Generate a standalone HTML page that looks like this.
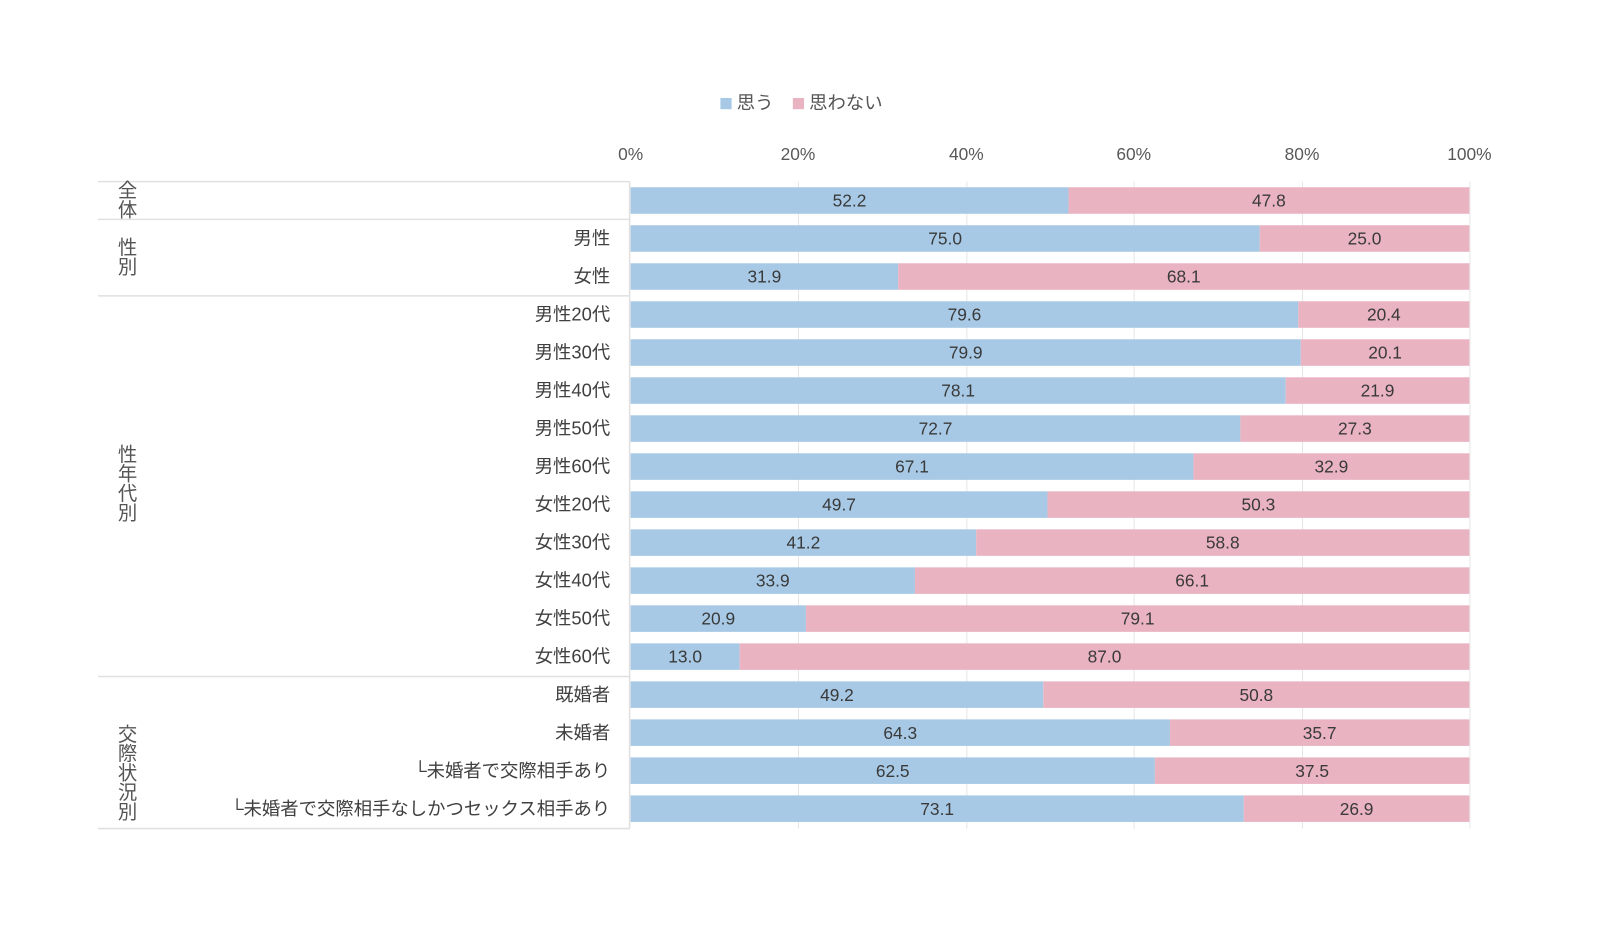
<!DOCTYPE html>
<html><head><meta charset="utf-8"><style>
html,body{margin:0;padding:0;background:#fff;}
svg{display:block;font-family:"Liberation Sans","Noto Sans CJK JP",sans-serif;}
</style></head><body>
<svg width="1600" height="938" viewBox="0 0 1600 938" xmlns="http://www.w3.org/2000/svg">
<rect width="1600" height="938" fill="#fff"/>
<g transform="scale(1.0204)">
<rect x="706" y="96" width="11" height="11" fill="#a7c9e5"/>
<text x="722" y="107" font-size="18" fill="#555">思う</text>
<rect x="777" y="96" width="11" height="11" fill="#e9b3c2"/>
<text x="793" y="107" font-size="18" fill="#555">思わない</text>
<g font-size="17" fill="#595959" text-anchor="middle">
<text x="618" y="157">0%</text><text x="782" y="157">20%</text><text x="947" y="157">40%</text>
<text x="1111" y="157">60%</text><text x="1276" y="157">80%</text><text x="1440" y="157">100%</text>
</g>
<g stroke="#e6e6e6" stroke-width="1">
<line x1="782.5" y1="178" x2="782.5" y2="812"/><line x1="947.5" y1="178" x2="947.5" y2="812"/>
<line x1="1111.5" y1="178" x2="1111.5" y2="812"/><line x1="1276.5" y1="178" x2="1276.5" y2="812"/>
<line x1="1440.5" y1="178" x2="1440.5" y2="812"/>
</g>
<g stroke="#e0e0e0" stroke-width="1.5">
<line x1="96" y1="178" x2="617" y2="178"/><line x1="96" y1="215" x2="617" y2="215"/>
<line x1="96" y1="290" x2="617" y2="290"/><line x1="96" y1="663" x2="617" y2="663"/>
<line x1="96" y1="812" x2="617" y2="812"/><line x1="617" y1="178" x2="617" y2="812"/>
</g>
<g font-size="19" fill="#555" text-anchor="middle">
<text x="125" y="193">全</text><text x="125" y="212">体</text>
<text x="125" y="249">性</text><text x="125" y="268">別</text>
<text x="125" y="452">性</text><text x="125" y="471">年</text><text x="125" y="490">代</text><text x="125" y="509">別</text>
<text x="125" y="726">交</text><text x="125" y="745">際</text><text x="125" y="764">状</text><text x="125" y="783">況</text><text x="125" y="802">別</text>
</g>
<g id="rows" font-size="18" fill="#404040"></g>
</g>
</svg>
<script>
const data=[["",52.2],["男性",75.0],["女性",31.9],["男性20代",79.6],["男性30代",79.9],["男性40代",78.1],["男性50代",72.7],["男性60代",67.1],["女性20代",49.7],["女性30代",41.2],["女性40代",33.9],["女性50代",20.9],["女性60代",13.0],["既婚者",49.2],["未婚者",64.3],["└未婚者で交際相手あり",62.5],["└未婚者で交際相手なしかつセックス相手あり",73.1]];
const g=document.getElementById('rows');const NS="http://www.w3.org/2000/svg";
const x0=618,W=822;
function el(t,a,txt){const e=document.createElementNS(NS,t);for(const k in a)e.setAttribute(k,a[k]);if(txt!==undefined)e.textContent=txt;g.appendChild(e);return e;}
data.forEach((d,i)=>{const cy=196.5+i*37.25;const y=cy-13;const bw=W*d[1]/100;
el('rect',{x:x0,y:y,width:bw,height:26,fill:'#a7c9e5'});
el('rect',{x:x0+bw,y:y,width:W-bw,height:26,fill:'#e9b3c2'});
el('text',{x:x0+bw/2,y:cy+6,'text-anchor':'middle','font-size':'17',fill:'#3a3a3a'},d[1].toFixed(1));
el('text',{x:x0+bw+(W-bw)/2,y:cy+6,'text-anchor':'middle','font-size':'17',fill:'#3a3a3a'},(100-d[1]).toFixed(1));
if(d[0])el('text',{x:598,y:cy+6,'text-anchor':'end',fill:'#404040'},d[0]);
});
</script>
</body></html>
